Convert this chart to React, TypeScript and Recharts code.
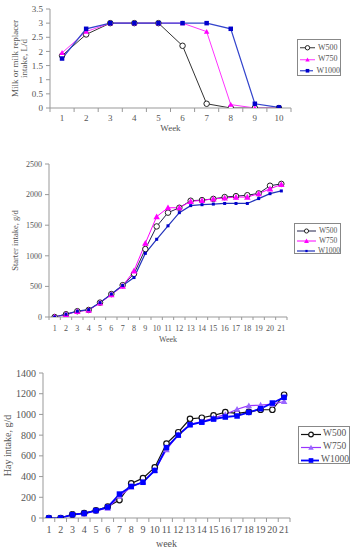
import React from 'react';
import { LineChart, Line, XAxis, YAxis, Legend } from 'recharts';

// ---------- data ----------
const milkWeeks = ['1', '2', '3', '4', '5', '6', '7', '8', '9', '10'];
const milkW500 = [1.85, 2.6, 3, 3, 3, 2.2, 0.15, 0, 0, 0];
const milkW750 = [1.95, 2.7, 3, 3, 3, 3, 2.7, 0.12, 0, 0];
const milkW1000 = [1.75, 2.8, 3, 3, 3, 3, 3, 2.8, 0.15, 0.02];
const milkTicks = [0, 0.5, 1, 1.5, 2, 2.5, 3, 3.5];

const longWeeks = ['1', '2', '3', '4', '5', '6', '7', '8', '9', '10', '11', '12', '13', '14', '15', '16', '17', '18', '19', '20', '21'];
const starterW500 = [0, 45, 95, 115, 235, 375, 520, 705, 1110, 1480, 1705, 1785, 1900, 1910, 1930, 1960, 1975, 1990, 2020, 2145, 2175];
const starterW750 = [0, 40, 90, 110, 230, 365, 505, 755, 1205, 1640, 1785, 1785, 1890, 1905, 1930, 1945, 1960, 1960, 2015, 2095, 2165];
const starterW1000 = [0, 45, 95, 120, 235, 375, 515, 645, 1040, 1270, 1490, 1705, 1820, 1835, 1845, 1855, 1855, 1855, 1935, 2015, 2060];
const starterTicks = [0, 500, 1000, 1500, 2000, 2500];

const hayW500 = [0, 0, 35, 48, 74, 109, 173, 334, 385, 488, 719, 828, 958, 968, 990, 1022, 1010, 1025, 1045, 1045, 1190];
const hayW750 = [0, 0, 35, 40, 70, 95, 210, 300, 350, 460, 660, 805, 905, 930, 965, 1000, 1050, 1085, 1090, 1100, 1125];
const hayW1000 = [0, 0, 32, 45, 72, 105, 231, 305, 345, 459, 680, 800, 900, 925, 955, 975, 985, 1020, 1055, 1110, 1165];
const hayTicks = [0, 200, 400, 600, 800, 1000, 1200, 1400];

const seriesNames = ['W500', 'W750', 'W1000'];

// ---------- helpers ----------
const FONT = '"Liberation Serif", "DejaVu Serif", serif';
const TEXT = '#555';
const AXIS = '#999';

type Shape = 'circle' | 'triangle' | 'square';
type DotSpec = { shape: Shape; size: number; fill: string; stroke: string; sw?: number };
type Series = { key: string; color: string; width: number; dot: DotSpec };

function Marker({ cx, cy, spec, scale = 1 }: { cx: number; cy: number; spec: DotSpec; scale?: number }) {
  const s = spec.size * scale;
  const h = s / 2;
  if (spec.shape === 'circle')
    return <circle cx={cx} cy={cy} r={h} fill={spec.fill} stroke={spec.stroke} strokeWidth={spec.sw ?? 1} />;
  if (spec.shape === 'square')
    return <rect x={cx - h} y={cy - h} width={s} height={s} fill={spec.fill} stroke={spec.stroke} strokeWidth={spec.sw ?? 0} />;
  return (
    <polygon
      points={`${cx},${cy - h} ${cx + h},${cy + h * 0.8} ${cx - h},${cy + h * 0.8}`}
      fill={spec.fill}
      stroke={spec.stroke}
      strokeWidth={spec.sw ?? 0}
    />
  );
}

const dotFn = (spec: DotSpec) => (p: any) =>
  p.cx == null || p.cy == null ? <g key={p.index} /> : <Marker key={p.index} cx={p.cx} cy={p.cy} spec={spec} />;

const buildRows = (weeks: string[], a: number[], b: number[], c: number[]) =>
  weeks.map((w, i) => ({ week: w, W500: a[i], W750: b[i], W1000: c[i] }));

const makeXTick = (fontSize: number, tickSize: number, tickMargin: number, count: number) => (props: any) => {
  const { x, y, payload, index } = props;
  const off = payload && payload.offset ? payload.offset : 0;
  const axisY = y - tickSize - tickMargin;
  return (
    <g>
      <line x1={x - off} x2={x - off} y1={axisY} y2={axisY + tickSize} stroke={AXIS} />
      {index === count - 1 ? <line x1={x + off} x2={x + off} y1={axisY} y2={axisY + tickSize} stroke={AXIS} /> : null}
      <text x={x} y={y} dy="0.71em" textAnchor="middle" fontSize={fontSize} fill={TEXT} fontFamily={FONT}>
        {payload.value}
      </text>
    </g>
  );
};

const yLabel = (lines: string[], xs: number[], fontSize: number) => (p: any) => {
  const vb = p.viewBox || {};
  const cy = vb.y + vb.height / 2;
  return (
    <g>
      {lines.map((t, i) => (
        <text
          key={i}
          x={xs[i]}
          y={cy}
          transform={`rotate(-90 ${xs[i]} ${cy})`}
          textAnchor="middle"
          dominantBaseline="central"
          fontSize={fontSize}
          fill={TEXT}
          fontFamily={FONT}
        >
          {t}
        </text>
      ))}
    </g>
  );
};

const xLabel = (text: string, dy: number, fontSize: number) => (p: any) => {
  const vb = p.viewBox || {};
  return (
    <text x={vb.x + vb.width / 2} y={vb.y + dy} textAnchor="middle" fontSize={fontSize} fill={TEXT} fontFamily={FONT}>
      {text}
    </text>
  );
};

function LegendBox({ series, width, height, rowH, padTop, lineLen, fontSize, gap, mscale }: any) {
  return (
    <div
      style={{
        boxSizing: 'border-box',
        width,
        height,
        border: '1px solid #888',
        background: '#fff',
        paddingTop: padTop,
        paddingLeft: 2,
        fontFamily: FONT,
        fontSize,
        color: TEXT,
        lineHeight: 1,
      }}
    >
      {series.map((s: Series, i: number) => (
        <div key={s.key} style={{ display: 'flex', alignItems: 'center', height: rowH }}>
          <svg width={lineLen} height={rowH} style={{ display: 'block' }}>
            <line x1={0} x2={lineLen} y1={rowH / 2} y2={rowH / 2} stroke={s.color} strokeWidth={s.width} />
            <Marker cx={lineLen / 2} cy={rowH / 2} spec={s.dot} scale={mscale} />
          </svg>
          <span style={{ marginLeft: gap, whiteSpace: 'nowrap' }}>{seriesNames[i]}</span>
        </div>
      ))}
    </div>
  );
}

// ---------- series styles ----------
const milkSeries: Series[] = [
  { key: 'W500', color: '#333', width: 1, dot: { shape: 'circle', size: 5.5, fill: '#fff', stroke: '#222', sw: 1 } },
  { key: 'W750', color: '#ff33ff', width: 1, dot: { shape: 'triangle', size: 5.5, fill: '#ff00ff', stroke: '#ff00ff' } },
  { key: 'W1000', color: '#3344cc', width: 1.2, dot: { shape: 'square', size: 4.5, fill: '#0000cc', stroke: '#0000cc' } },
];
const starterSeries: Series[] = [
  { key: 'W500', color: '#22224a', width: 1, dot: { shape: 'circle', size: 5.5, fill: '#fff', stroke: '#222', sw: 1 } },
  { key: 'W750', color: '#ff00ff', width: 1, dot: { shape: 'triangle', size: 6.5, fill: '#ff00ff', stroke: '#ff00ff' } },
  { key: 'W1000', color: '#2233bb', width: 1.2, dot: { shape: 'square', size: 3, fill: '#0000cc', stroke: '#0000cc' } },
];
const haySeries: Series[] = [
  { key: 'W500', color: '#111', width: 1.2, dot: { shape: 'circle', size: 5.5, fill: '#fff', stroke: '#111', sw: 1.2 } },
  { key: 'W750', color: '#9933ff', width: 1.2, dot: { shape: 'triangle', size: 6.5, fill: '#9966ff', stroke: '#9966ff' } },
  { key: 'W1000', color: '#0000ff', width: 1.8, dot: { shape: 'square', size: 5.5, fill: '#0000ff', stroke: '#0000ff' } },
];

type PanelProps = {
  top: number;
  height: number;
  rows: any[];
  series: Series[];
  margin: any;
  yWidth: number;
  xHeight: number;
  domain: [number, number];
  ticks: number[];
  tickFont: number;
  xTickSize: number;
  xTickMargin: number;
  xLabelText: string;
  xLabelDy: number;
  xLabelFont: number;
  yLines: string[];
  yXs: number[];
  yFont: number;
  legend: any;
};

function Panel(p: PanelProps) {
  const count = p.rows.length;
  return (
    <div style={{ position: 'absolute', left: 0, top: p.top }}>
      <LineChart width={356} height={p.height} data={p.rows} margin={p.margin}>
        <XAxis
          dataKey="week"
          type="category"
          scale="band"
          height={p.xHeight}
          interval={0}
          stroke={AXIS}
          tickLine={false}
          tickSize={p.xTickSize}
          tickMargin={p.xTickMargin}
          tick={makeXTick(p.tickFont, p.xTickSize, p.xTickMargin, count)}
          label={{ content: xLabel(p.xLabelText, p.xLabelDy, p.xLabelFont) } as any}
        />
        <YAxis
          width={p.yWidth}
          domain={p.domain}
          ticks={p.ticks}
          interval={0}
          allowDataOverflow
          stroke={AXIS}
          tickSize={4}
          tickMargin={3}
          tick={{ fontSize: p.tickFont, fill: TEXT, fontFamily: FONT }}
          label={{ content: yLabel(p.yLines, p.yXs, p.yFont) } as any}
        />
        <Legend
          layout="vertical"
          align="center"
          verticalAlign="middle"
          wrapperStyle={{ position: 'absolute', left: p.legend.left, top: p.legend.top, width: p.legend.width, height: p.legend.height, margin: 0 }}
          content={() => <LegendBox series={p.series} {...p.legend} />}
        />
        {p.series.map((s) => (
          <Line
            key={s.key}
            type="linear"
            dataKey={s.key}
            name={s.key}
            stroke={s.color}
            strokeWidth={s.width}
            dot={dotFn(s.dot)}
            activeDot={false}
            isAnimationActive={false}
          />
        ))}
      </LineChart>
    </div>
  );
}

export default function App() {
  const milkRows = buildRows(milkWeeks, milkW500, milkW750, milkW1000);
  const starterRows = buildRows(longWeeks, starterW500, starterW750, starterW1000);
  const hayRows = buildRows(longWeeks, hayW500, hayW750, hayW1000);
  return (
    <div style={{ position: 'absolute', left: 0, top: 0, width: 356, height: 550, background: '#fff', overflow: 'hidden' }}>
      <Panel
        top={0}
        height={140}
        rows={milkRows}
        series={milkSeries}
        margin={{ top: 9, right: 65, bottom: 0, left: 0 }}
        yWidth={50}
        xHeight={32}
        domain={[0, 3.5]}
        ticks={milkTicks}
        tickFont={9}
        xTickSize={4}
        xTickMargin={3}
        xLabelText="Week"
        xLabelDy={23}
        xLabelFont={9}
        yLines={['Milk or milk replacer', 'intake, L/d']}
        yXs={[15, 24]}
        yFont={9}
        legend={{ left: 297, top: 39, width: 44, height: 37, rowH: 11.5, padTop: 2, lineLen: 15, fontSize: 8, gap: 3, mscale: 0.8 }}
      />
      <Panel
        top={150}
        height={195}
        rows={starterRows}
        series={starterSeries}
        margin={{ top: 14, right: 69, bottom: 0, left: 0 }}
        yWidth={49}
        xHeight={28}
        domain={[0, 2500]}
        ticks={starterTicks}
        tickFont={8}
        xTickSize={3}
        xTickMargin={5}
        xLabelText="Week"
        xLabelDy={25}
        xLabelFont={8}
        yLines={['Starter intake, g/d']}
        yXs={[15]}
        yFont={8.5}
        legend={{ left: 294, top: 73, width: 47, height: 31, rowH: 10, padTop: 1.5, lineLen: 19, fontSize: 7.5, gap: 3, mscale: 0.75 }}
      />
      <Panel
        top={350}
        height={200}
        rows={hayRows}
        series={haySeries}
        margin={{ top: 23, right: 66, bottom: 0, left: 0 }}
        yWidth={43}
        xHeight={32}
        domain={[0, 1400]}
        ticks={hayTicks}
        tickFont={10}
        xTickSize={4}
        xTickMargin={4}
        xLabelText="week"
        xLabelDy={29}
        xLabelFont={10}
        yLines={['Hay intake, g/d']}
        yXs={[7]}
        yFont={10}
        legend={{ left: 298, top: 76, width: 52, height: 38, rowH: 13, padTop: 0.5, lineLen: 20, fontSize: 9.5, gap: 2, mscale: 0.85 }}
      />
    </div>
  );
}
